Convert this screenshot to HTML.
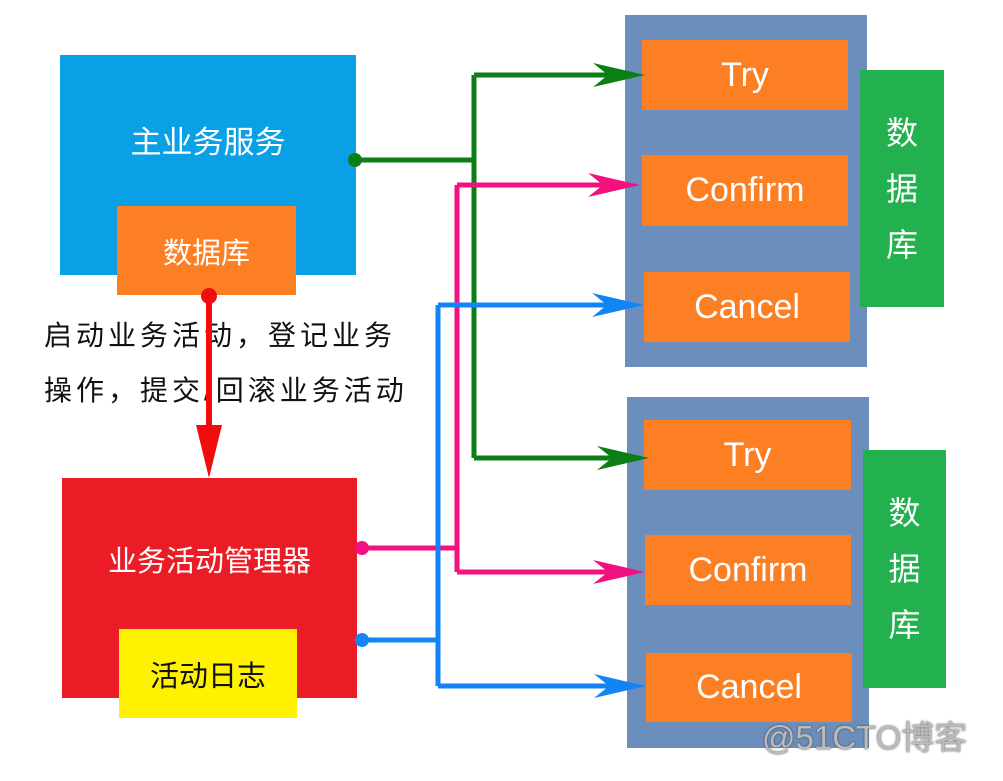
<!DOCTYPE html>
<html><head><meta charset="utf-8"><style>
body{margin:0;width:1003px;height:781px;background:#fff;overflow:hidden;position:relative;font-family:"Liberation Sans","Noto Sans CJK SC",sans-serif}
.b{position:absolute;display:flex;align-items:center;justify-content:center;color:#fff}
.o{background:#fd7f23;font-size:34px}
.g{background:#23b04f;font-size:32px;flex-direction:column;line-height:56px}
.p{background:#6c8ebc}
svg{position:absolute;left:0;top:0}
.t{position:absolute;left:44px;font-size:28px;color:#111;letter-spacing:4px;white-space:nowrap}
</style></head><body>
<div class="b" style="left:60px;top:55px;width:296px;height:220px;background:#0aa0e6;font-size:31px;align-items:flex-start;padding-top:62px;box-sizing:border-box">主业务服务</div>
<div class="b o" style="left:117px;top:206px;width:179px;height:89px;font-size:29px">数据库</div>
<div class="b" style="left:62px;top:478px;width:295px;height:220px;background:#ec1c27;font-size:29px;align-items:flex-start;padding-top:60px;box-sizing:border-box">业务活动管理器</div>
<div class="b" style="left:119px;top:629px;width:178px;height:89px;background:#fff200;color:#111;font-size:29px">活动日志</div>
<div class="t" style="top:314px">启动业务活动，登记业务</div>
<div class="t" style="top:369px">操作，提交/回滚业务活动</div>

<div class="b p" style="left:625px;top:15px;width:242px;height:352px"></div>
<div class="b p" style="left:627px;top:397px;width:242px;height:351px"></div>
<div class="b o" style="left:642px;top:40px;width:206px;height:70px">Try</div>
<div class="b o" style="left:642px;top:155px;width:206px;height:71px">Confirm</div>
<div class="b o" style="left:644px;top:272px;width:206px;height:70px">Cancel</div>
<div class="b o" style="left:644px;top:420px;width:207px;height:70px">Try</div>
<div class="b o" style="left:645px;top:535px;width:206px;height:70px">Confirm</div>
<div class="b o" style="left:646px;top:653px;width:206px;height:69px">Cancel</div>
<div class="b g" style="left:860px;top:70px;width:84px;height:237px"><span>数</span><span>据</span><span>库</span></div>
<div class="b g" style="left:863px;top:450px;width:83px;height:238px"><span>数</span><span>据</span><span>库</span></div>

<svg width="1003" height="781">
<g fill="none" stroke-width="5">
<path d="M355 160H474M474 75V458M474 75H620M474 458H625" stroke="#0b7e16"/>
<path d="M362 548H457M457 185V572M457 185H620M457 572H625" stroke="#f2117f"/>
<path d="M362 640H438M438 305V686M438 305H620M438 686H625" stroke="#1384f5"/>
<path d="M209 296V430" stroke="#f10d0d" stroke-width="6"/>
</g>
<circle cx="355" cy="160" r="7" fill="#0b7e16"/>
<circle cx="362" cy="548" r="7" fill="#f2117f"/>
<circle cx="362" cy="640" r="7" fill="#1384f5"/>
<circle cx="209" cy="296" r="8" fill="#f10d0d"/>
<polygon points="196,425 222,425 209,478" fill="#f10d0d"/>
<polygon points="593,63 645,75 593,87 608,75" fill="#0b7e16"/>
<polygon points="597,446 649,458 597,470 612,458" fill="#0b7e16"/>
<polygon points="588,173 640,185 588,197 603,185" fill="#f2117f"/>
<polygon points="593,560 645,572 593,584 608,572" fill="#f2117f"/>
<polygon points="592,293 644,305 592,317 607,305" fill="#1384f5"/>
<polygon points="594,674 646,686 594,698 609,686" fill="#1384f5"/>
</svg>
<div style="position:absolute;left:762px;top:711px;font-size:33px;color:#bbb;text-shadow:0 0 2px #444;white-space:nowrap">@51CTO博客</div>
</body></html>
